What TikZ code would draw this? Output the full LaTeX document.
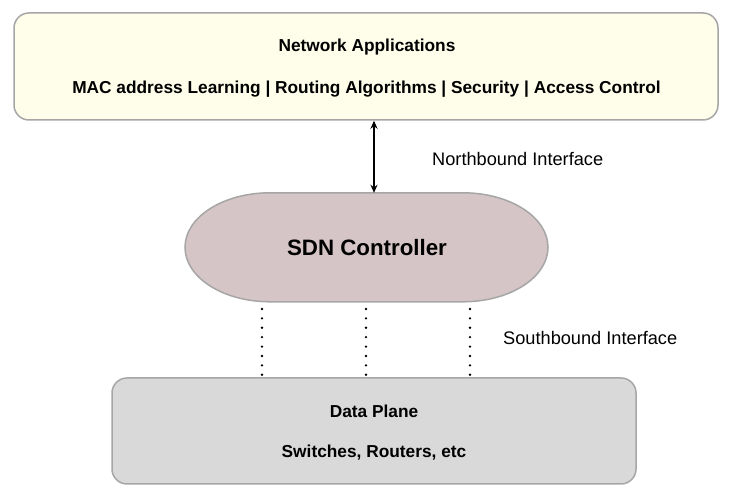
\documentclass[tikz,border=0pt]{standalone}
\usepackage{fontspec}
\setmainfont{Liberation Sans}
\usetikzlibrary{arrows.meta}
\definecolor{appfill}{HTML}{FEFEEB}
\definecolor{ctrlfill}{HTML}{D5C5C6}
\definecolor{dpfill}{HTML}{D9D9D9}
\definecolor{edge}{HTML}{A6A6A6}
\begin{document}
\begin{tikzpicture}[x=1pt,y=1pt,
  boxstyle/.style={draw=edge,line width=1.5pt,rounded corners=15pt,inner sep=0pt,align=center},
  lbl/.style={font=\fontsize{18.2}{21}\selectfont,anchor=west,inner sep=0pt},
  btxt/.style={font=\bfseries\fontsize{17.3}{20}\selectfont},
  dotline/.style={line width=2.6pt,dash pattern=on 0pt off 9.4pt,line cap=round}]
\useasboundingbox (0,0) rectangle (732,500);
\node[boxstyle,fill=appfill,minimum width=704pt,minimum height=107pt] (apps) at (366,433.5) {};
\node[btxt] (appt1) at (367,453) {Network Applications};
\node[btxt] (appt2) at (366.5,411) {MAC address Learning | Routing Algorithms | Security | Access Control};
\node[minimum width=363pt,minimum height=109pt,inner sep=0pt] (ctrl) at (366.5,252.5) {};
\draw[draw=edge,fill=ctrlfill,line width=1.5pt] (ctrl.north) ++(-96.5,0) -- ++(193,0)
  arc[start angle=90,end angle=-90,x radius=85,y radius=54.5] -- ++(-193,0)
  arc[start angle=270,end angle=90,x radius=85,y radius=54.5] -- cycle;
\node[font=\bfseries\fontsize{22.3}{26}\selectfont] (ctrlt) at (367,252) {SDN Controller};
\node[boxstyle,fill=dpfill,minimum width=524pt,minimum height=106pt] (dp) at (374,69) {};
\node[btxt] (dpt1) at (374,89) {Data Plane};
\node[btxt] (dpt2) at (374,47) {Switches, Routers, etc};
\coordinate (ax) at (374,0);
\draw[{Stealth[length=8pt,width=7pt]}-{Stealth[length=8pt,width=7pt]},line width=1.3pt] (apps.south -| ax) -- (ctrl.north -| ax);
\node[lbl] (nb) at (432,341) {Northbound Interface};
\foreach \xx/\nm in {262/d1,366/d2,470/d3}{
  \coordinate (\nm a) at (\xx,191);
  \coordinate (\nm b) at (\xx,125);
  \draw[dotline] (\nm a) -- (\nm b);
}
\node[lbl] (sb) at (503,162) {Southbound Interface};
\end{tikzpicture}
\end{document}
